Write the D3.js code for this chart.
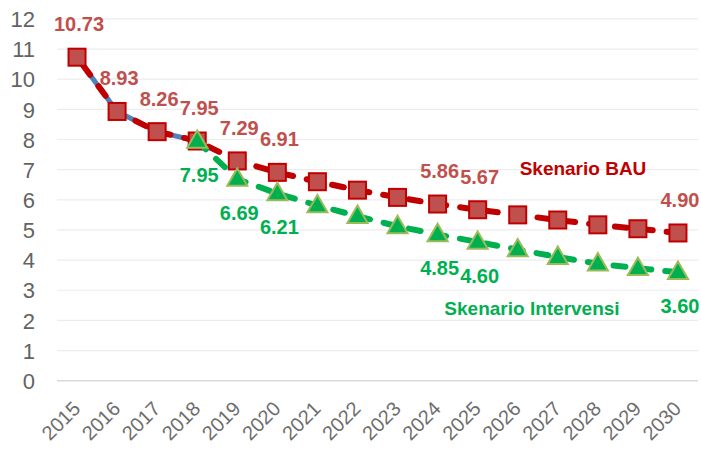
<!DOCTYPE html>
<html>
<head>
<meta charset="utf-8">
<script src="https://cdn.jsdelivr.net/npm/d3@7"></script>
<style>
  html, body { margin: 0; padding: 0; background: #fff; }
  svg { display: block; font-family: "Liberation Sans", Arial, sans-serif; }
</style>
</head>
<body>
<svg id="chart" width="701" height="450"></svg>
<script>
const years = ["2015","2016","2017","2018","2019","2020","2021","2022","2023","2024","2025","2026","2027","2028","2029","2030"];
const bauValues = [10.73, 8.93, 8.26, 7.95, 7.29, 6.91, 6.60, 6.32, 6.08, 5.86, 5.67, 5.50, 5.33, 5.17, 5.04, 4.90];
const historyYears = ["2015","2016","2017","2018"];
const interventionYears = ["2018","2019","2020","2021","2022","2023","2024","2025","2026","2027","2028","2029","2030"];
const interventionValues = [7.95, 6.69, 6.21, 5.81, 5.46, 5.12, 4.85, 4.60, 4.35, 4.10, 3.88, 3.73, 3.60];
const bauLabelYears = ["2015","2016","2017","2018","2019","2020","2024","2025","2030"];
const interventionLabelYears = ["2018","2019","2020","2024","2025","2030"];
const yTicks = [0,1,2,3,4,5,6,7,8,9,10,11,12];
const bauName = "Skenario BAU";
const interventionName = "Skenario Intervensi";

const svg = d3.select("#chart");
const x = d3.scaleBand().domain(years).range([57, 698]).padding(0);
const cx = d => x(d) + x.bandwidth() / 2;
const y = d3.scaleLinear().domain([0, 12]).range([380.7, 18.9]);

// gridlines
svg.append("g").selectAll("line").data(yTicks).join("line")
  .attr("x1", 57).attr("x2", 698)
  .attr("y1", d => y(d)).attr("y2", d => y(d))
  .attr("stroke", d => d === 0 ? "#d9d9d9" : "#ececec")
  .attr("stroke-width", d => d === 0 ? 1.5 : 1.2);

// y axis labels
const yAxis = d3.axisLeft(y).tickValues(yTicks).tickSize(0).tickPadding(0).tickFormat(d3.format("d"));
const gy = svg.append("g").attr("transform", "translate(35,0)").call(yAxis);
gy.select(".domain").remove();
gy.selectAll("text").attr("fill", "#636363").attr("font-size", 22)
  .attr("font-family", "'Liberation Sans', Arial, sans-serif").attr("dy", "0.35em");

// x axis labels
const xAxis = d3.axisBottom(x).tickSize(0).tickPadding(0);
const gx = svg.append("g").attr("transform", "translate(0,381)").call(xAxis);
gx.select(".domain").remove();
gx.selectAll("text")
  .attr("fill", "#6e6e6e").attr("font-size", 20)
  .attr("font-family", "'Liberation Sans', Arial, sans-serif")
  .attr("text-anchor", "end")
  .attr("dy", 0).attr("y", 0)
  .attr("transform", "translate(4.5,29) rotate(-45)");

const bau = years.map((yr, i) => ({ yr, v: bauValues[i] }));
const hist = bau.filter(d => historyYears.includes(d.yr));
const inter = interventionYears.map((yr, i) => ({ yr, v: interventionValues[i] }));
const line = d3.line().x(d => cx(d.yr)).y(d => y(d.v));

// historical blue line
svg.append("path").datum(hist).attr("d", line)
  .attr("fill", "none").attr("stroke", "#4f81bd").attr("stroke-width", 5);

// BAU dashed line
svg.append("path").datum(bau).attr("d", line)
  .attr("fill", "none").attr("stroke", "#c00000").attr("stroke-width", 6)
  .attr("stroke-dasharray", "12 14").attr("stroke-dashoffset", 16)
  .attr("stroke-linecap", "round");

// BAU markers
svg.append("g").selectAll("rect").data(bau).join("rect")
  .attr("x", d => cx(d.yr) - 8.5).attr("y", d => y(d.v) - 8.5)
  .attr("width", 17).attr("height", 17)
  .attr("fill", "#c0504d").attr("stroke", "#c00000").attr("stroke-width", 2);

// intervention dashed line
svg.append("path").datum(inter).attr("d", line)
  .attr("fill", "none").attr("stroke", "#00b050").attr("stroke-width", 6)
  .attr("stroke-dasharray", "12 14").attr("stroke-linecap", "round");

// intervention markers (triangles)
const tri = d3.symbol().type(d3.symbolTriangle).size(175);
svg.append("g").selectAll("path").data(inter).join("path")
  .attr("d", tri)
  .attr("transform", d => `translate(${cx(d.yr)},${y(d.v) + 1})`)
  .attr("fill", "#00b050").attr("stroke", "#9bbb59").attr("stroke-width", 2);

// data labels
const fmt = d3.format(".2f");
svg.append("g").selectAll("text").data(bau.filter(d => bauLabelYears.includes(d.yr))).join("text")
  .attr("x", d => cx(d.yr) + 2).attr("y", d => y(d.v) - 26)
  .attr("text-anchor", "middle").attr("font-size", 20).attr("font-weight", "bold")
  .attr("fill", "#c0504d").text(d => fmt(d.v));

svg.append("g").selectAll("text").data(inter.filter(d => interventionLabelYears.includes(d.yr))).join("text")
  .attr("x", d => cx(d.yr) + 2).attr("y", d => y(d.v) + 41)
  .attr("text-anchor", "middle").attr("font-size", 20).attr("font-weight", "bold")
  .attr("fill", "#00b050").text(d => fmt(d.v));

// series name labels
svg.append("text").attr("x", 583).attr("y", 175).attr("text-anchor", "middle")
  .attr("font-size", 19).attr("font-weight", "bold").attr("fill", "#c00000").text(bauName);
svg.append("text").attr("x", 532).attr("y", 315).attr("text-anchor", "middle")
  .attr("font-size", 19).attr("font-weight", "bold").attr("fill", "#00b050").text(interventionName);
</script>
</body>
</html>
